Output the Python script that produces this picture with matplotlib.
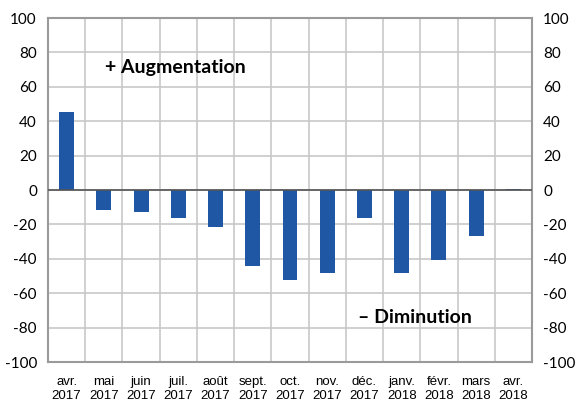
import numpy as np
import matplotlib
matplotlib.use("Agg")
import matplotlib.pyplot as plt

# DATA
months = ["avr.\n2017", "mai\n2017", "juin\n2017", "juil.\n2017", "août\n2017", "sept.\n2017",
          "oct.\n2017", "nov.\n2017", "déc.\n2017", "janv.\n2018", "févr.\n2018", "mars\n2018",
          "avr.\n2018"]
values = [45.5, -11.5, -13, -16, -21.5, -44, -52.5, -48, -16.5, -48, -40.5, -27, 0.5]
yticks = list(range(-100, 101, 20))

plt.rcParams["font.family"] = ["Liberation Sans", "DejaVu Sans"]

# FIGURE
fig = plt.figure(figsize=(5.77, 4.03), dpi=100)
ax = fig.add_axes([48 / 577, 41 / 403, 484 / 577, 344 / 403])

x = np.arange(len(months))
ax.bar(x, values, width=0.4, color="#1f57a5", zorder=3)

ax.set_xlim(-0.5, len(months) - 0.5)
ax.set_ylim(-100, 100)
ax.set_yticks(yticks)
ax.set_yticklabels([str(t) for t in yticks], fontsize=11, family="Lato")
ax.set_xticks(x)
ax.set_xticklabels(months, fontsize=9.5, linespacing=1.25)
ax.tick_params(axis="y", length=0, pad=8)
ax.tick_params(axis="x", length=0, pad=10)

# grid: horizontal at ticks, vertical at category borders
for t in yticks:
    ax.axhline(t, color="#c8c8c8", lw=1.2, zorder=1)
for b in np.arange(-0.5, len(months)):
    ax.axvline(b, color="#c8c8c8", lw=1.2, zorder=1)
ax.axhline(0, color="#555555", lw=1.2, zorder=4)

for s in ax.spines.values():
    s.set_color("#9a9a9a")
    s.set_linewidth(1.5)

ax2 = ax.twinx()
ax2.set_ylim(-100, 100)
ax2.set_yticks(yticks)
ax2.set_yticklabels([str(t) for t in yticks], fontsize=11, family="Lato")
ax2.tick_params(axis="y", length=0, pad=8)
for s in ax2.spines.values():
    s.set_visible(False)

ax.text(1.03, 71, "+ Augmentation", fontsize=14, fontweight="bold", family="Lato", va="center")
ax.text(7.83, -74, "– Diminution", fontsize=14, fontweight="bold", family="Lato", va="center")

fig.savefig("out.png", dpi=100)
